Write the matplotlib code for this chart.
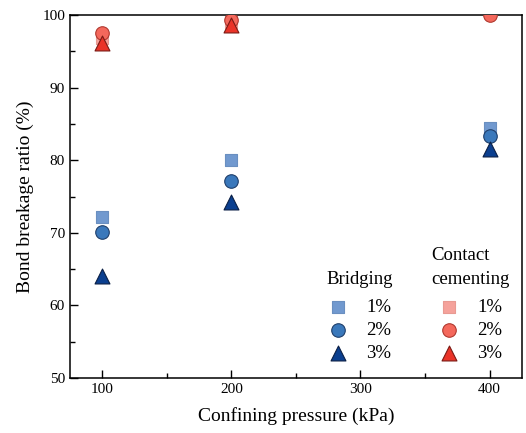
import numpy as np
import matplotlib.pyplot as plt
from matplotlib.ticker import MultipleLocator

plt.rcParams['font.family'] = ['Liberation Serif', 'DejaVu Serif']

pressure = [100, 200, 400]
labels = ['1%', '2%', '3%']

bridging = [
    [72.2, 80.0, 84.4],
    [70.1, 77.1, 83.3],
    [64.0, 74.2, 81.5],
]
# 1% and 3% at 400 kPa are hidden behind the 2% circle
contact = [
    [96.8, 99.0, np.nan],
    [97.5, 99.3, 100.0],
    [96.1, 98.6, np.nan],
]

markers = ['s', 'o', '^']
sizes = [70, 95, 115]
blue_fc = ['#7199cf', '#3a78bb', '#0b3f8f']
blue_ec = ['#6a8fc0', '#1f3f6b', '#0a1f45']
red_fc = ['#f5a29b', '#f4685c', '#ea3328']
red_ec = ['#e89a92', '#b0392f', '#7a1a14']

fig = plt.figure(figsize=(5.26, 4.33), dpi=100)
ax = fig.add_axes([0.133, 0.127, 0.859, 0.838])

hb = []
hc = []
for i in range(3):
    h = ax.scatter(pressure, bridging[i], marker=markers[i], s=sizes[i],
                   facecolor=blue_fc[i], edgecolor=blue_ec[i], linewidth=0.8,
                   zorder=3, label=labels[i])
    hb.append(h)
for i in range(3):
    h = ax.scatter(pressure, contact[i], marker=markers[i], s=sizes[i],
                   facecolor=red_fc[i], edgecolor=red_ec[i], linewidth=0.8,
                   zorder=3, label=labels[i])
    hc.append(h)

ax.set_xlim(75, 425)
ax.set_ylim(50, 100)
ax.set_xticks([100, 200, 300, 400])
ax.set_yticks([50, 60, 70, 80, 90, 100])
ax.xaxis.set_minor_locator(MultipleLocator(50))
ax.yaxis.set_minor_locator(MultipleLocator(5))
ax.tick_params(which='both', direction='in', labelsize=11, top=False, right=False)
ax.tick_params(which='major', length=6, width=1)
ax.tick_params(which='minor', length=3.5, width=1)
for s in ax.spines.values():
    s.set_linewidth(1.1)

ax.set_xlabel('Confining pressure (kPa)', fontsize=14, labelpad=8)
ax.set_ylabel('Bond breakage ratio (%)', fontsize=14, labelpad=6)

leg1 = ax.legend(handles=hb, title='Bridging', frameon=False, fontsize=13.5,
                 title_fontsize=13.5, loc='lower center', bbox_to_anchor=(0.642, 0.045),
                 handlelength=1.0, handletextpad=1.0, labelspacing=0.31,
                 borderaxespad=0.0, borderpad=0.0)
leg1._legend_box.sep = 7.8
ax.add_artist(leg1)
leg2 = ax.legend(handles=hc, title='Contact\ncementing', frameon=False, fontsize=13.5,
                 title_fontsize=13.5, loc='lower center', bbox_to_anchor=(0.887, 0.045),
                 handlelength=1.0, handletextpad=1.0, labelspacing=0.31,
                 borderaxespad=0.0, borderpad=0.0)
leg2._legend_box.sep = 7.8
leg2.get_title().set_linespacing(1.5)

fig.savefig('out.png', dpi=100)
